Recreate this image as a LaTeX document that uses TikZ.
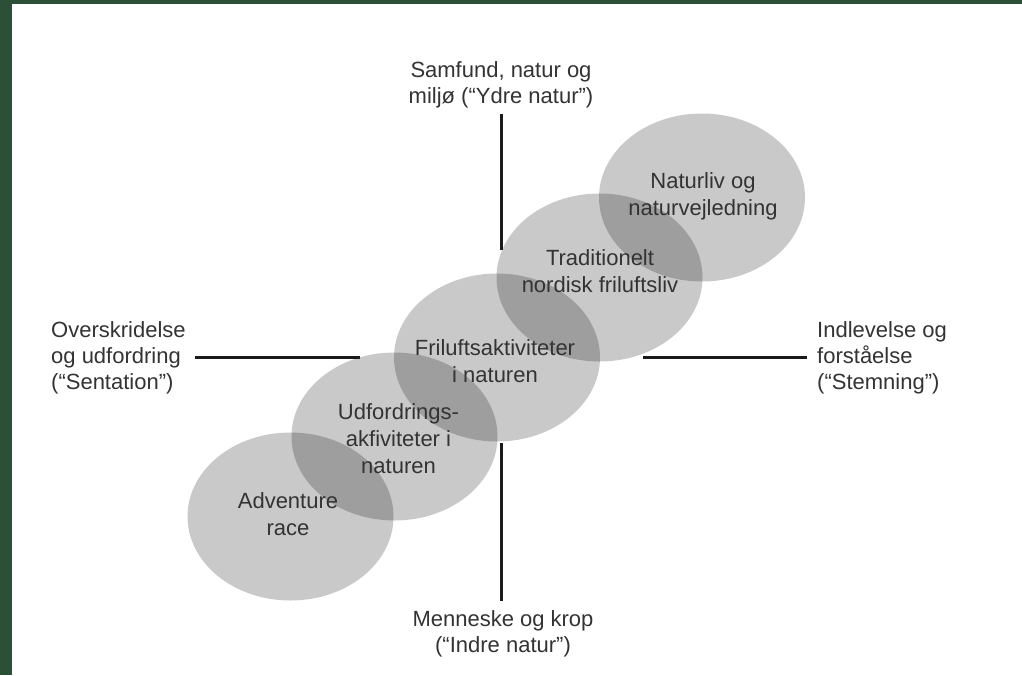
\documentclass[tikz,border=0pt]{standalone}
\usepackage{fontspec}
\setmainfont{Liberation Sans}
\usetikzlibrary{shapes.geometric}
\definecolor{framegreen}{HTML}{2B5037}
\definecolor{txtgray}{HTML}{333333}
\definecolor{axisline}{HTML}{1A1A1A}
\begin{document}
\begin{tikzpicture}[x=1pt,y=-1pt,
  blob/.style={ellipse, draw=none, fill=black, fill opacity=0.21,
    minimum width=206pt, minimum height=168pt, inner sep=0pt},
  outlbl/.style={font=\fontsize{22}{26}\selectfont, text=txtgray, inner sep=0pt},
  inlbl/.style={font=\fontsize{22}{27}\selectfont, text=txtgray, inner sep=0pt, align=center, anchor=north},
  axis/.style={draw=axisline, line width=3pt}]
\useasboundingbox (0,0) rectangle (1022,675);
\fill[white] (0,0) rectangle (1022,675);
\fill[framegreen] (0,0) rectangle (12,675);
\fill[framegreen] (0,0) rectangle (1022,4);
% ellipses
\node[blob] (e1) at (290.5,516.5) {};
\node[blob] (e2) at (394.5,436.5) {};
\node[blob] (e3) at (497,357.5) {};
\node[blob] (e4) at (599.5,277.5) {};
\node[blob] (e5) at (702,197.5) {};
% axis lines
\coordinate (ta) at (501.5,114);
\coordinate (tb) at (501.5,250);
\coordinate (ba) at (501.5,443);
\coordinate (bb) at (501.5,601);
\coordinate (la) at (195,357.5);
\coordinate (lb) at (360,357.5);
\coordinate (ra) at (643,357.5);
\coordinate (rb) at (807,357.5);
\draw[axis] (ta) -- (tb);
\draw[axis] (ba) -- (bb);
\draw[axis] (la) -- (lb);
\draw[axis] (ra) -- (rb);
% outer labels
\node[outlbl, align=center, anchor=north] (top) at (501,58.8)
  {\strut Samfund, natur og\\\strut milj\o{} (\textquotedblleft Ydre natur\textquotedblright)};
\node[outlbl, align=left, anchor=north west] (left) at (51,318.8)
  {\strut Overskridelse\\\strut og udfordring\\\strut (\textquotedblleft Sentation\textquotedblright)};
\node[outlbl, align=left, anchor=north west] (right) at (817,318.8)
  {\strut Indlevelse og\\\strut forst\aa{}else\\\strut (\textquotedblleft Stemning\textquotedblright)};
\node[outlbl, align=center, anchor=north] (bottom) at (503,607.8)
  {\strut Menneske og krop\\\strut (\textquotedblleft Indre natur\textquotedblright)};
% ellipse labels
\node[inlbl] (t5) at (703,169.1) {\strut Naturliv og\\\strut naturvejledning};
\node[inlbl] (t4) at (600,246.1) {\strut Traditionelt\\\strut nordisk friluftsliv};
\node[inlbl] (t3) at (495,336.1) {\strut Friluftsaktiviteter\\\strut i naturen};
\node[inlbl] (t2) at (398.5,400.1) {\strut Udfordrings-\\\strut akfiviteter i\\\strut naturen};
\node[inlbl] (t1) at (288,489.1) {\strut Adventure\\\strut race};
\end{tikzpicture}
\end{document}
